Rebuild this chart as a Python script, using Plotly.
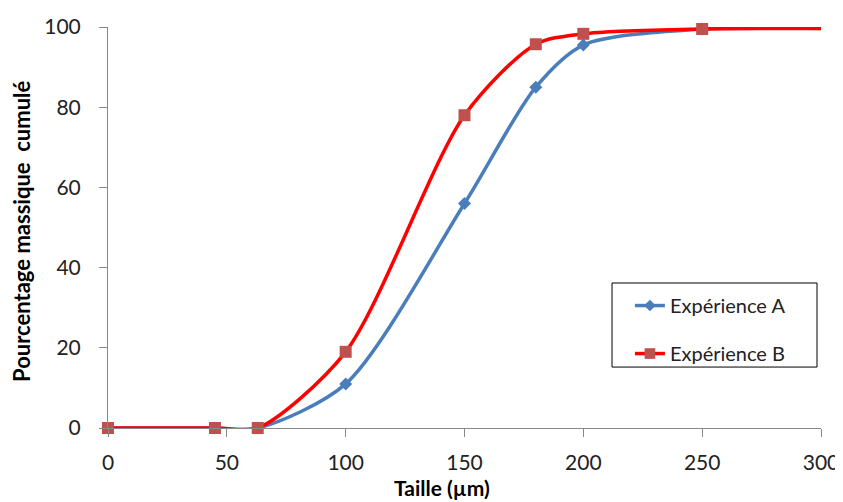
import plotly.graph_objects as go

x_a = [0, 45, 63, 100, 150, 180, 200, 250, 300]
y_a = [0, 0, 0, 11, 56, 85, 95.5, 99.5, 99.6]
x_b = [0, 45, 63, 100, 150, 180, 200, 250, 300]
y_b = [0, 0, 0, 19, 78, 95.7, 98.3, 99.5, 99.6]
x_ticks = [0, 50, 100, 150, 200, 250, 300]
y_ticks = [0, 20, 40, 60, 80, 100]

font = "Lato, 'Open Sans', sans-serif"

fig = go.Figure()
fig.add_trace(go.Scatter(
    x=x_a, y=y_a, name="Expérience A", mode="lines+markers", legendgroup="a",
    line=dict(color="#4A7EBB", width=3.5, shape="spline", smoothing=0.8),
    marker=dict(symbol="diamond", size=[10]*8 + [0], color="#4A7EBB",
                opacity=1, line=dict(width=0)),
    cliponaxis=False,
))
fig.add_trace(go.Scatter(
    x=x_b, y=y_b, name="Expérience B", mode="lines+markers", legendgroup="b",
    line=dict(color="#FF0000", width=3.5, shape="spline", smoothing=0.8),
    marker=dict(symbol="square", size=[12]*8 + [0], color="#C0504D",
                opacity=1, line=dict(width=0)),
    cliponaxis=False,
))

fig.update_layout(
    width=835, height=494,
    margin=dict(l=100, r=22, t=19, b=74),
    paper_bgcolor="white", plot_bgcolor="white",
    font=dict(family=font, size=21, color="#222222"),
    showlegend=True,
    legend=dict(
        x=0.732, y=0.354, xanchor="left", yanchor="top",
        borderwidth=0, bgcolor="rgba(0,0,0,0)",
        font=dict(size=20), tracegroupgap=19, traceorder="grouped",
    ),
    shapes=[
        dict(type="rect", xref="paper", yref="paper",
             x0=0.7069, x1=0.9944, y0=0.152, y1=0.3616,
             line=dict(color="#000000", width=1), fillcolor="white", layer="below"),
    ],
    xaxis=dict(
        range=[0, 300], tickvals=x_ticks, showgrid=False, zeroline=False,
        showline=True, linecolor="#888888", linewidth=1, automargin=False,
        ticks="outside", ticklen=8, tickcolor="#888888", ticklabelstandoff=8,
    ),
    yaxis=dict(
        range=[0, 100], tickvals=y_ticks, showgrid=False, zeroline=False,
        showline=True, linecolor="#888888", linewidth=1, automargin=False,
        ticks="outside", ticklen=8, tickcolor="#888888", ticklabelstandoff=14,
    ),
    annotations=[
        dict(text="<b>Taille (µm)</b>", xref="paper", yref="paper",
             x=0.468, y=-0.148, xanchor="center", yanchor="middle",
             showarrow=False, font=dict(size=21, color="#000")),
        dict(text="<b>Pourcentage massique  cumulé</b>", xref="paper", yref="paper",
             x=-0.1206, y=0.489, xanchor="center", yanchor="middle", textangle=-90,
             showarrow=False, font=dict(size=22, color="#000")),
    ],
)

fig.write_html("out.html")
